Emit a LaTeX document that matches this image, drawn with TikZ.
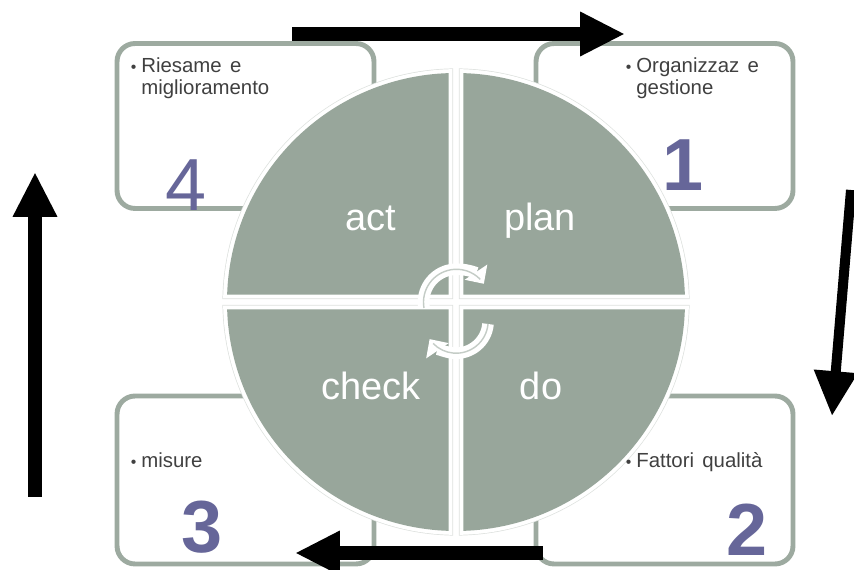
\documentclass[tikz,border=0pt]{standalone}
\usepackage{fontspec}
\setmainfont{Liberation Sans}
\usetikzlibrary{calc,arrows.meta}
\definecolor{sage}{HTML}{98A69B}
\definecolor{frame}{HTML}{9DAAA0}
\definecolor{numcol}{HTML}{666699}
\definecolor{txtcol}{HTML}{404040}
\newcommand{\quadpath}[1]{($(c)+(#1+45:10.5)$) -- ($(c)+(#1+1.85:229)$) arc[start angle=#1+1.85,end angle=#1+88.15,radius=229] -- cycle}
\newcommand{\bul}{\makebox[0pt][r]{\small •\hspace{2.8pt}}}

\begin{document}
\begin{tikzpicture}[x=0.02cm,y=0.02cm,
    box/.style={draw=frame,line width=2.8pt,fill=white,rounded corners=0.36cm,minimum width=5.14cm,minimum height=3.3cm},
    lab/.style={anchor=north west,align=left,inner sep=0pt,text=txtcol,font=\fontsize{11.6}{12.5}\selectfont},
    word/.style={anchor=base,text=white,font=\fontsize{21.6}{24}\selectfont},
    num/.style={text=numcol,font=\fontsize{42}{46}\selectfont},
    thick arrow/.style={line width=8.5pt,-{Triangle[length=25.5pt,width=23.5pt]}}]
        \clip (0,0) rectangle (854,570);
        \coordinate (c) at (456,268);
        \node[box] (boxa) at (664.5,444) {};
        \node[box,minimum height=3.36cm] (boxb) at (664.5,90) {};
        \node[box,minimum height=3.36cm] (boxc) at (245.5,90) {};
        \node[box] (boxd) at (245.5,444) {};
        \foreach \ang in {0,90,180,270}
            \draw[frame!35,line width=5.2pt,line join=miter] \quadpath{\ang};
        \foreach \ang in {0,90,180,270}
            \draw[white,line width=4.4pt,line join=miter] \quadpath{\ang};
        \foreach \ang in {0,90,180,270}
            \fill[sage] \quadpath{\ang};
        \node[word] (plan) at (540,339) {plan};
        \node[word] (do) at (541,170) {do};
        \node[word] (check) at (371,170) {check};
        \node[word] (act) at (371,339) {act};
        \node[num,font=\fontsize{42}{46}\bfseries] (n1) at (683,405) {1};
        \node[num,font=\fontsize{42}{46}\bfseries] (n2) at (747,40) {2};
        \node[num,font=\fontsize{42}{46}\bfseries] (n3) at (202,43) {3};
        \node[num] (n4) at (186,385) {4};
        \node[lab] (orga) at (636,513) {\bul Organizzaz\ \hspace{1.5pt}e\\gestione};
        \node[lab] (fatt) at (636,118) {\bul Fattori\ \hspace{1.5pt}qualità};
        \node[lab] (misu) at (141,118) {\bul misure};
        \node[lab] (ries) at (141,513) {\bul Riesame\ \hspace{1.5pt}e\\miglioramento};
        \draw[white,line width=6.6pt,-{Triangle[length=8pt,width=15pt]}] (c) ++(-32,-6) coordinate (ua) arc[start angle=190,end angle=34,radius=33];
        \draw[frame!60,line width=0.8pt] (ua) arc[start angle=190,end angle=44,radius=33];
        \draw[white,line width=6.6pt,-{Triangle[length=8pt,width=15pt]}] (c) ++(32,-22) coordinate (la) arc[start angle=-5,end angle=-146,radius=32];
        \draw[frame!60,line width=0.8pt] (la) arc[start angle=-5,end angle=-136,radius=32];
        \coordinate (ts) at (292,536);
        \coordinate (te) at (625,536);
        \coordinate (rs) at (851,380);
        \coordinate (re) at (832,154);
        \coordinate (bs) at (543,17);
        \coordinate (be) at (295,17);
        \coordinate (ls) at (35,73);
        \coordinate (le) at (35,398);
        \draw[thick arrow] (ts) to (te);
        \draw[thick arrow,line width=5.7pt] (rs) to (re);
        \draw[thick arrow] (bs) to (be);
        \draw[thick arrow] (ls) to (le);
    \end{tikzpicture}
\end{document}
